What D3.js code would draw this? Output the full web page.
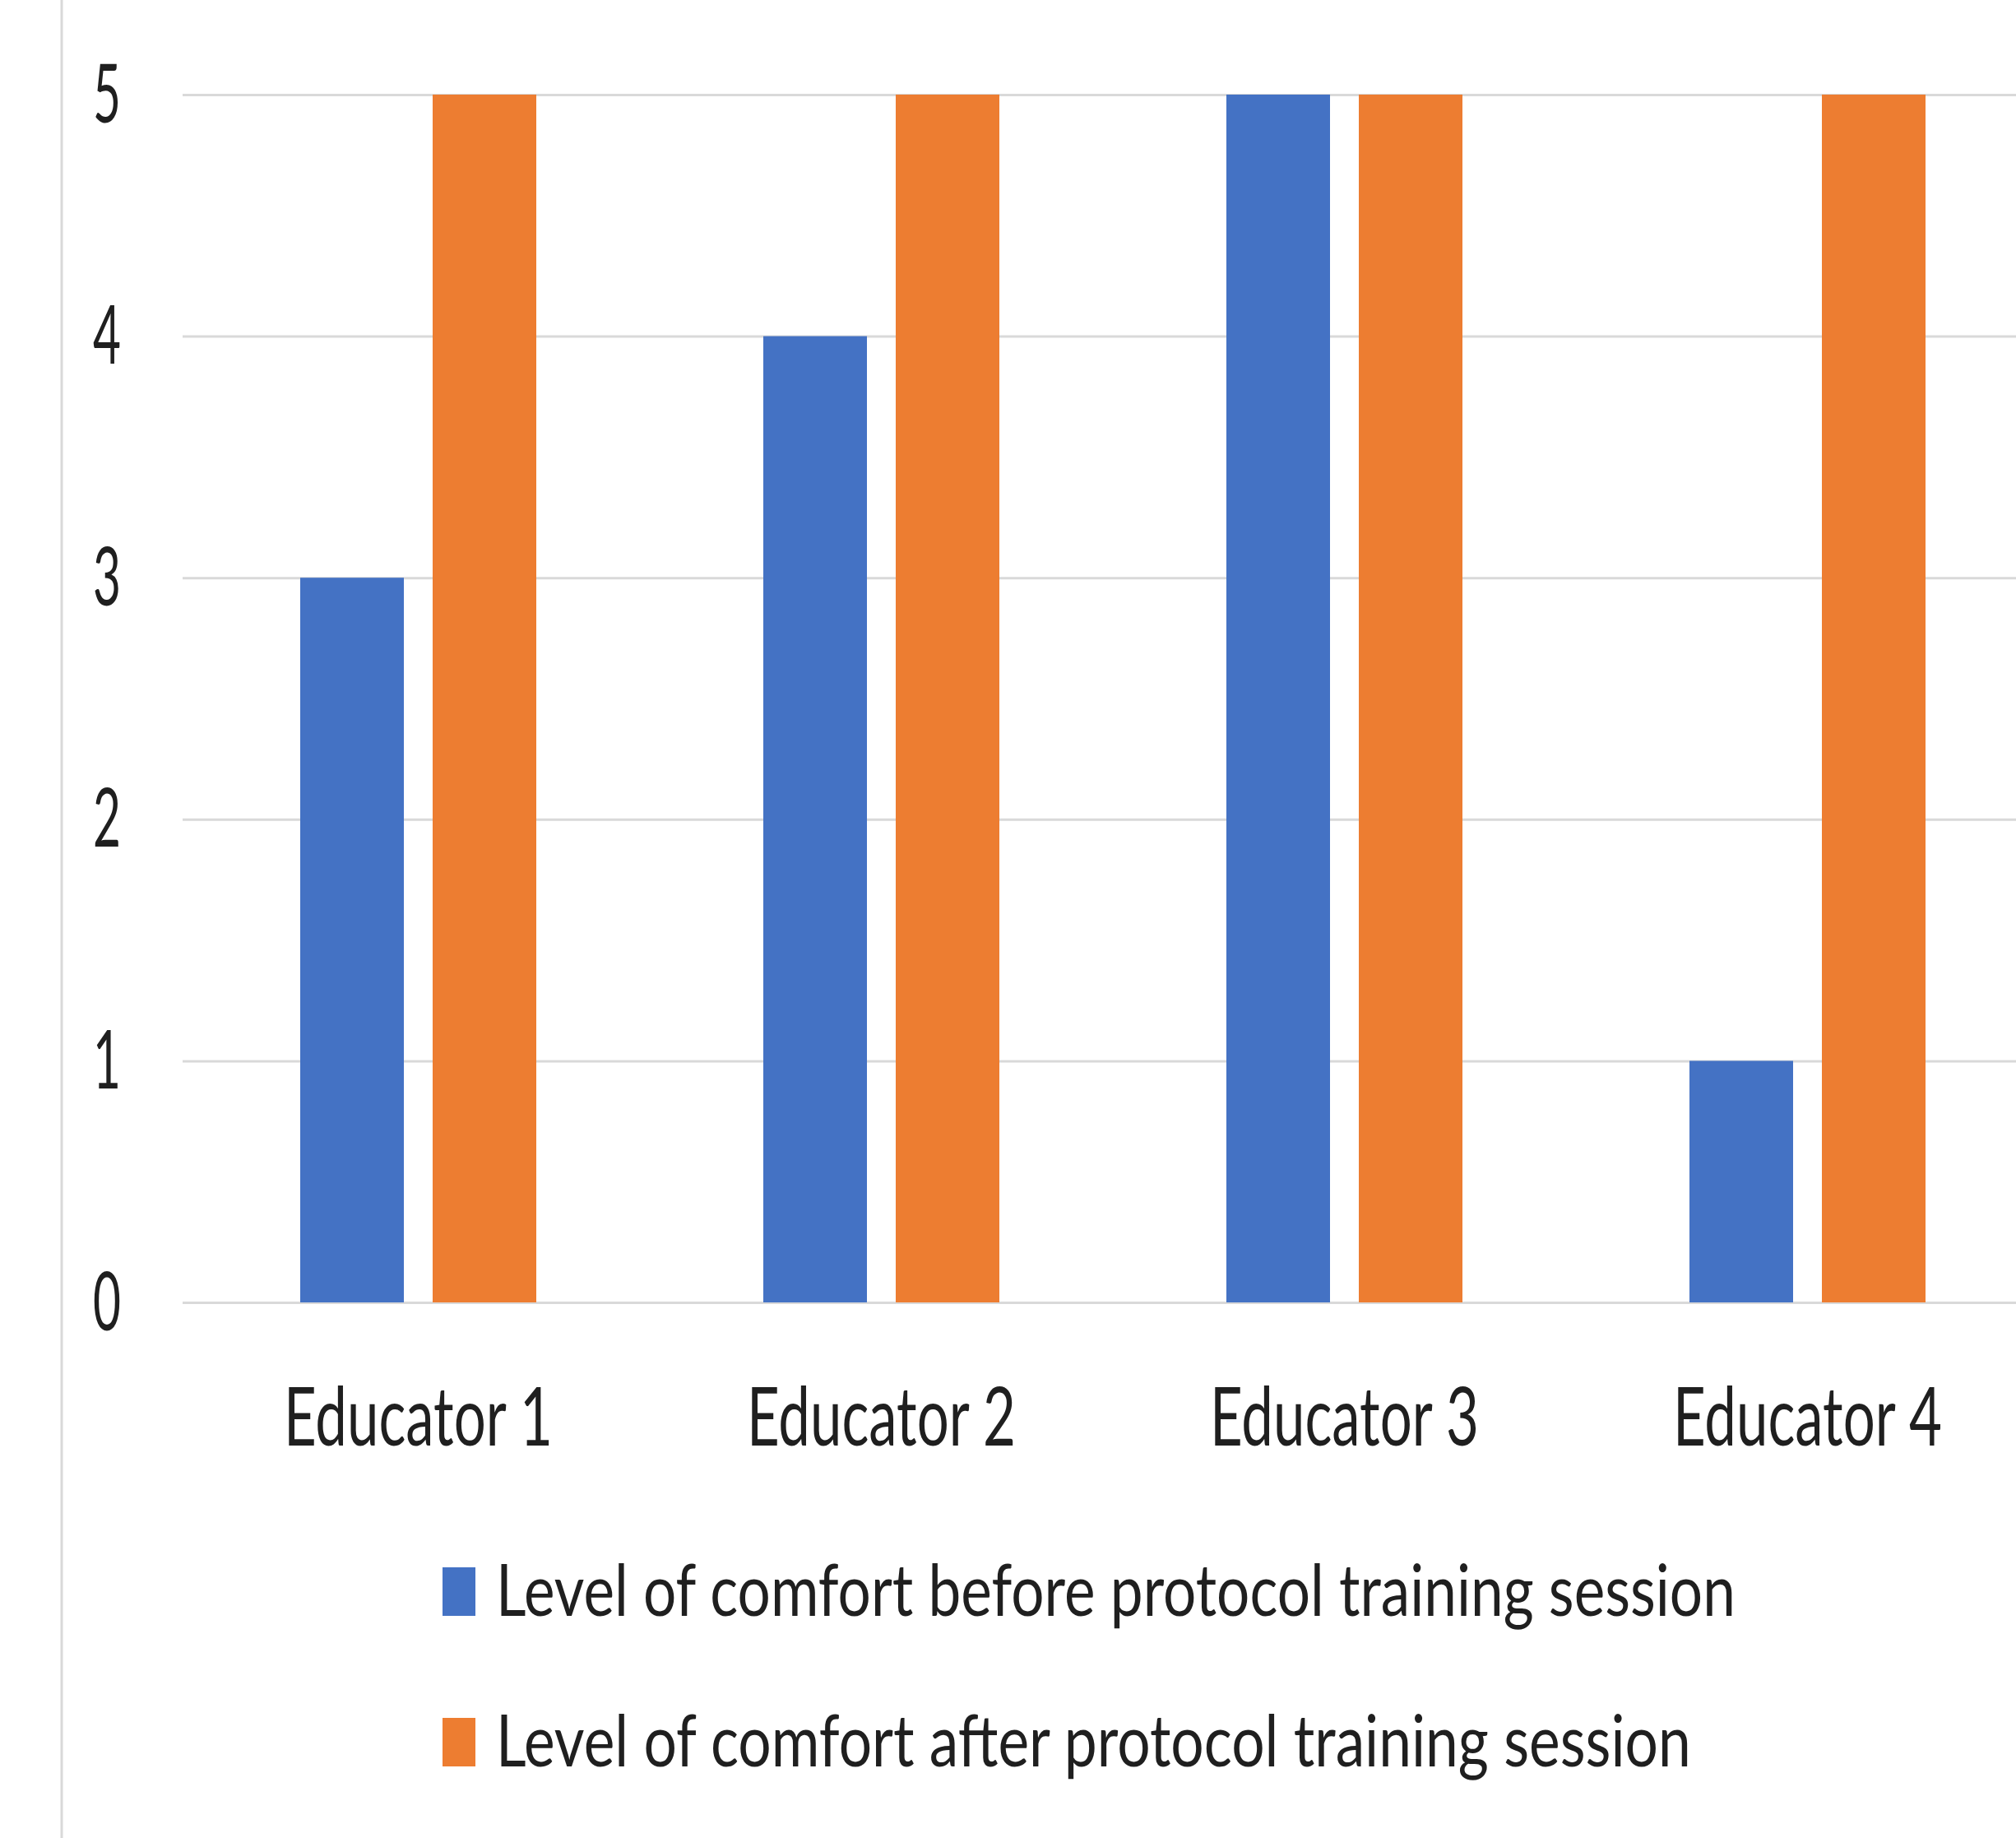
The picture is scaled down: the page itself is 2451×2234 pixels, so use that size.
<!DOCTYPE html>
<html>
<head>
<meta charset="utf-8">
<script src="https://cdn.jsdelivr.net/npm/d3@7"></script>
<style>
  html, body { margin: 0; padding: 0; background: #ffffff; }
  svg { display: block; }
  text { font-family: Lato, "Open Sans", sans-serif; fill: #1f1f1f; }
</style>
</head>
<body>
<script>
// Comfort ratings per educator, before and after the protocol training session
const categories = ["Educator 1", "Educator 2", "Educator 3", "Educator 4"];
const seriesNames = [
  "Level of comfort before protocol training session",
  "Level of comfort after protocol training session"
];
const beforeValues = [3, 4, 5, 1];
const afterValues = [5, 5, 5, 5];
const yTicks = [0, 1, 2, 3, 4, 5];
const seriesColors = ["#4472C4", "#ED7D31"];

const W = 2451, H = 2234;
const svg = d3.select("body").append("svg").attr("width", W).attr("height", H);

// Layout
const plotLeft = 222, gridRight = W;
const bandStart = 227, bandStep = 563;
const barW = 126, barGap = 35;

const x0 = d3.scaleBand()
  .domain(categories)
  .range([bandStart, bandStart + bandStep * categories.length])
  .padding(0);

// inner band: two bars of width barW separated by barGap, centred in each category
const innerStep = barW + barGap;
const pInner = barGap / innerStep;
const pOuter = (bandStep / innerStep - 2 + pInner) / 2;
const x1 = d3.scaleBand()
  .domain(seriesNames)
  .range([0, x0.bandwidth()])
  .paddingInner(pInner)
  .paddingOuter(pOuter);

const y = d3.scaleLinear().domain([0, 5]).range([1583, 115]);

// Squeeze a text horizontally so that its rendered width equals `width`
function condense(sel, width, dx, dy) {
  sel.each(function () {
    const t = d3.select(this).attr("x", 0).attr("y", 0).attr("dy", null);
    const natural = this.getComputedTextLength();
    const w = typeof width === "function" ? width(t.datum()) : width;
    t.attr("transform", `translate(${dx},${dy}) scale(${w / natural},1)`);
  });
}

// Chart-area border on the left
svg.append("line")
  .attr("x1", 75).attr("x2", 75).attr("y1", 0).attr("y2", H)
  .attr("stroke", "#d9d9d9").attr("stroke-width", 3);

// Horizontal gridlines (the 0 line doubles as the category axis)
const yAxis = d3.axisLeft(y).tickValues(yTicks).tickSize(0).tickFormat(d3.format("d"));
const yAxisG = svg.append("g").attr("transform", `translate(${plotLeft},0)`).call(yAxis);
yAxisG.select(".domain").remove();
yAxisG.selectAll(".tick line")
  .attr("x2", gridRight - plotLeft)
  .attr("stroke", "#d9d9d9").attr("stroke-width", 3);
yAxisG.selectAll(".tick text")
  .attr("text-anchor", "end")
  .attr("font-size", 98)
  .attr("fill", "#1f1f1f")
  .call(condense, 34, 147 - plotLeft, 33);

// Bars
const rows = categories.map((c, i) => ({ cat: c, vals: [beforeValues[i], afterValues[i]] }));
const groups = svg.append("g").selectAll("g")
  .data(rows).join("g")
  .attr("transform", d => `translate(${x0(d.cat)},0)`);
groups.selectAll("rect")
  .data(d => d.vals.map((v, j) => ({ name: seriesNames[j], v, j })))
  .join("rect")
  .attr("x", d => x1(d.name))
  .attr("width", x1.bandwidth())
  .attr("y", d => y(d.v))
  .attr("height", d => y(0) - y(d.v))
  .attr("fill", d => seriesColors[d.j]);

// Category labels
const xAxis = d3.axisBottom(x0).tickSize(0);
const xAxisG = svg.append("g").attr("transform", `translate(0,${y(0)})`).call(xAxis);
xAxisG.select(".domain").remove();
xAxisG.selectAll(".tick text")
  .attr("font-size", 98)
  .attr("fill", "#1f1f1f")
  .call(condense, 327, 0, 1757 - y(0));

// Legend, stacked vertically
const legendRows = [
  { name: seriesNames[0], color: seriesColors[0], base: 1964, len: 1507 },
  { name: seriesNames[1], color: seriesColors[1], base: 2147, len: 1453 }
];
const lg = svg.append("g").selectAll("g").data(legendRows).join("g");
lg.append("rect")
  .attr("x", 538).attr("width", 40)
  .attr("y", d => d.base - 59).attr("height", 59)
  .attr("fill", d => d.color);
lg.each(function (d) {
  d3.select(this).append("text")
    .attr("font-size", 88)
    .text(d.name)
    .call(condense, d.len, 603, d.base);
});
</script>
</body>
</html>
